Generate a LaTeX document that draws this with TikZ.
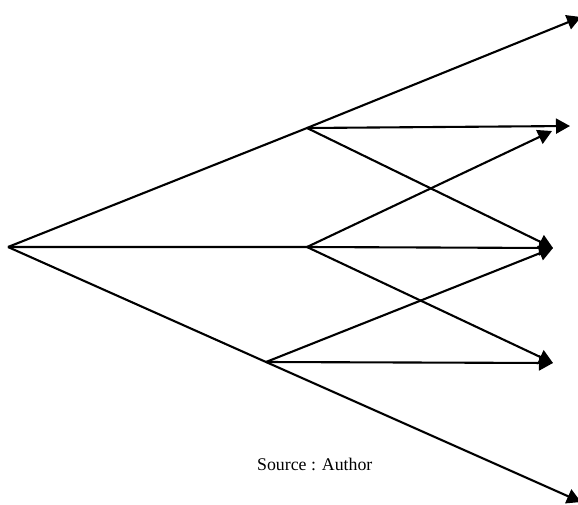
\documentclass[tikz,border=0pt]{standalone}
\usepackage{fontspec}
\setmainfont{Liberation Serif}
\usetikzlibrary{arrows.meta}
\tikzset{%
   branch/.style={line width=2.1pt},
   arr/.style={branch, -{Triangle[length=14pt, width=15pt]}},
}

\begin{document}
\begin{tikzpicture}[x=1pt, y=-1pt]
      \useasboundingbox (0,0) rectangle (578,504);
      \coordinate (o) at (8,247);
      \coordinate (a) at (307,128);
      \coordinate (b) at (307,247);
      \coordinate (c) at (266,362);
      \coordinate (t1) at (581,17);
      \coordinate (t2) at (570,126);
      \coordinate (t3) at (552,131);
      \coordinate (t4) at (553,248);
      \coordinate (t5) at (553,363);
      \coordinate (t6) at (581,502);
      \draw[arr] (o) -- (a) -- (t1);
      \draw[arr] (o) -- (b) -- (t4);
      \draw[arr] (o) -- (c) -- (t6);
      \draw[arr] (a) -- (t2);
      \draw[arr] (a) -- (t4);
      \draw[arr] (b) -- (t3);
      \draw[arr] (b) -- (t5);
      \draw[arr] (c) -- (t4);
      \draw[arr] (c) -- (t5);
      \node[anchor=base west, inner sep=0pt, font=\fontsize{17.8}{20}\selectfont] (src) at (257,470) {Source : Author};
   \end{tikzpicture}
\end{document}
